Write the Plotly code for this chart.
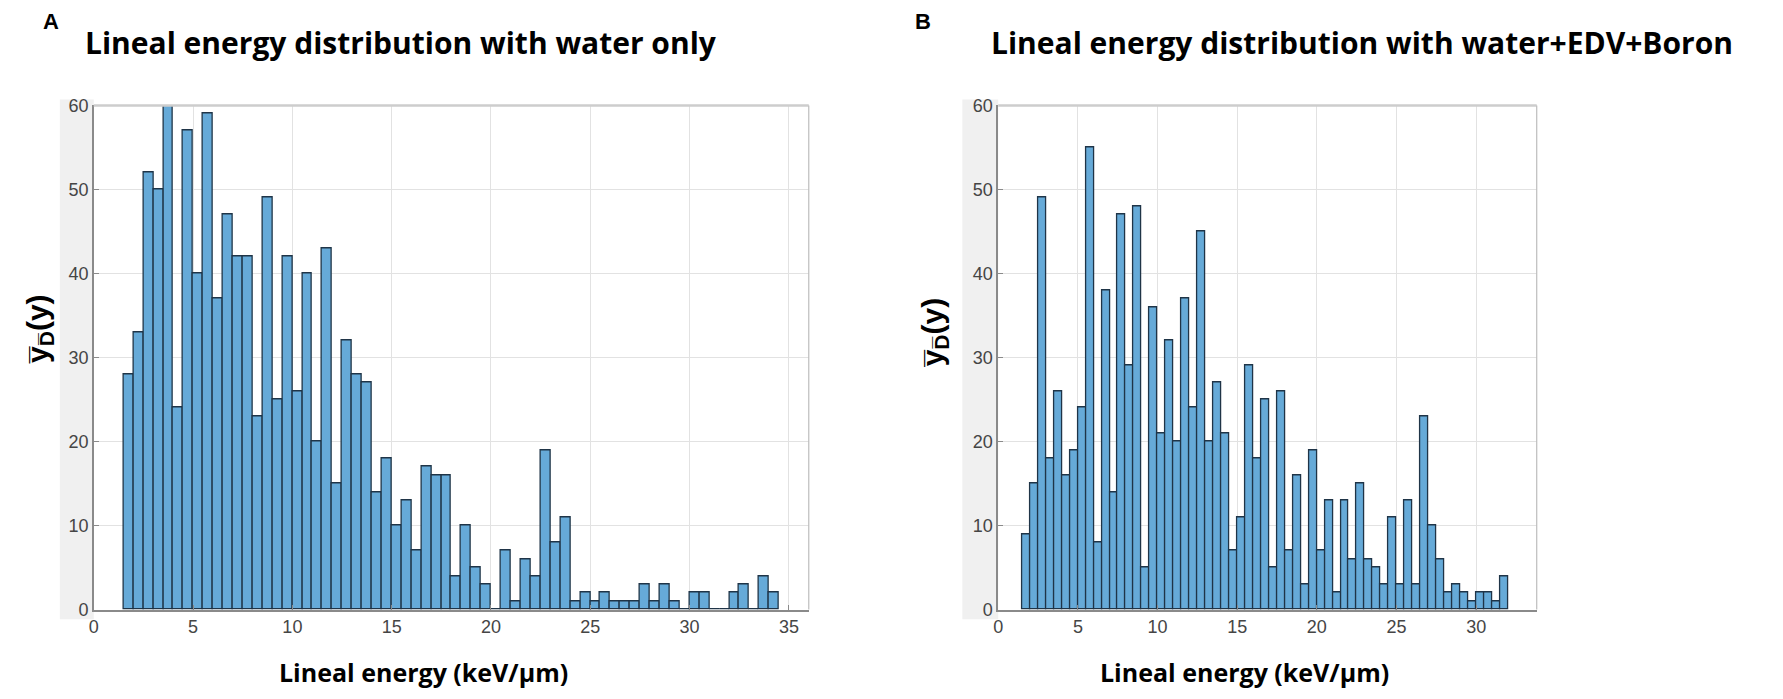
import numpy as np
import plotly.graph_objects as go

# ---------------- data ----------------
bin_width = 0.5
water_first_edge = 1.5
water_counts = [28, 33, 52, 50, 61, 24, 57, 40, 59, 37, 47, 42, 42, 23, 49, 25,
                42, 26, 40, 20, 43, 15, 32, 28, 27, 14, 18, 10, 13, 7, 17, 16,
                16, 4, 10, 5, 3, 0, 7, 1, 6, 4, 19, 8, 11,
                1, 2, 1, 2, 1, 1, 1, 3, 1, 3, 1, 0, 2, 2, 0, 0, 2, 3, 0, 4, 2]

boron_first_edge = 1.5
boron_counts = [9, 15, 49, 18, 26, 16, 19, 24, 55, 8, 38, 14, 47, 29, 48, 5,
                36, 21, 32, 20, 37, 24, 45, 20, 27, 21, 7, 11, 29, 18, 25, 5,
                26, 7, 16, 3, 19, 7, 13, 2, 13, 6, 15, 6, 5, 3, 11, 3, 13, 3,
                23, 10, 6, 2, 3, 2, 1, 2, 2, 1, 4]

y_ticks = [0, 10, 20, 30, 40, 50, 60]
water_x_ticks = [0, 5, 10, 15, 20, 25, 30, 35]
boron_x_ticks = [0, 5, 10, 15, 20, 25, 30]

panel_letters = ["A", "B"]
panel_titles = ["Lineal energy distribution with water only",
                "Lineal energy distribution with water+EDV+Boron"]
x_title = "Lineal energy (keV/\u03bcm)"
y_title = "<b>y\u0305<sub>D\u0305</sub>(y)</b>"

# ---------------- layout helpers ----------------
W, H = 1783, 699
def px(x):
    return x / W
def py(y):
    return 1 - y / H

BAR_FILL = "#66AAD8"
BAR_EDGE = "#1f3447"
GRID = "#e2e2e2"
AXIS = "#8a8a8a"
TICKFONT = dict(family="Liberation Sans, Arial, sans-serif", size=18, color="#454545")

def centers(first_edge, counts):
    return first_edge + bin_width * (np.arange(len(counts)) + 0.5)

fig = go.Figure()
fig.add_trace(go.Bar(x=centers(water_first_edge, water_counts), y=water_counts,
                     width=bin_width, marker=dict(color=BAR_FILL, line=dict(color=BAR_EDGE, width=1.3)),
                     cliponaxis=False, xaxis="x", yaxis="y", showlegend=False))
fig.add_trace(go.Bar(x=centers(boron_first_edge, boron_counts), y=boron_counts,
                     width=bin_width, marker=dict(color=BAR_FILL, line=dict(color=BAR_EDGE, width=1.3)),
                     cliponaxis=False, xaxis="x2", yaxis="y2", showlegend=False))

TOP, BOTTOM = 90, 609
ydom = [py(BOTTOM), py(TOP)]
common_x = dict(showgrid=True, gridcolor=GRID, gridwidth=1, zeroline=False,
                showline=True, linecolor=AXIS, linewidth=1.5, ticks="inside",
                ticklen=5, tickcolor=AXIS, tickfont=TICKFONT)
common_y = dict(showgrid=True, gridcolor=GRID, gridwidth=1, zeroline=False,
                showline=True, linecolor=AXIS, linewidth=1.5, ticks="inside",
                ticklen=5, tickcolor=AXIS, tickfont=TICKFONT,
                range=[0, 60], tickvals=y_ticks, domain=ydom)

fig.update_layout(
    width=W, height=H, margin=dict(l=0, r=0, t=0, b=0),
    paper_bgcolor="white", plot_bgcolor="white", bargap=0,
    xaxis=dict(domain=[px(81), px(798)], range=[0, 36], tickvals=water_x_ticks,
               anchor="y", **common_x),
    yaxis=dict(anchor="x", **common_y),
    xaxis2=dict(domain=[px(988), px(1528)], range=[0, 33.8], tickvals=boron_x_ticks,
                anchor="y2", **common_x),
    yaxis2=dict(anchor="x2", **common_y),
)

shapes = []
# light grey figure background strips behind y tick labels
for x0, x1 in [(47, 81), (952, 988)]:
    shapes.append(dict(type="rect", xref="paper", yref="paper", x0=px(x0), x1=px(x1),
                       y0=py(BOTTOM + 10), y1=py(TOP - 6), fillcolor="#f0f0f0",
                       line=dict(width=0), layer="below"))
# top and right box borders (lighter)
for xa, ya in [("x", "y"), ("x2", "y2")]:
    shapes.append(dict(type="line", xref=f"{xa} domain", yref=f"{ya} domain", x0=0, x1=1, y0=1, y1=1,
                       line=dict(color="#cdcdcd", width=2.5), layer="above"))
    shapes.append(dict(type="line", xref=f"{xa} domain", yref=f"{ya} domain", x0=1, x1=1, y0=0, y1=1,
                       line=dict(color="#bdbdbd", width=1.2), layer="above"))
fig.update_layout(shapes=shapes)

def note(text, x, y, font, xanchor="center", angle=0):
    return dict(text=text, x=px(x), y=py(y), xref="paper", yref="paper",
                xanchor=xanchor, yanchor="middle", showarrow=False, textangle=angle, font=font)

LETTER = dict(family="Liberation Sans, Arial, sans-serif", size=22, color="black")
TITLEFONT = dict(family="Open Sans, Liberation Sans, sans-serif", size=30, color="black")
XT = dict(family="Open Sans, Liberation Sans, sans-serif", size=25, color="black")
YT = dict(family="Liberation Sans, Arial, sans-serif", size=30, color="black")

ann = [
    note("<b>" + panel_letters[0] + "</b>", 38, 4, LETTER),
    note("<b>" + panel_letters[1] + "</b>", 913, 4, LETTER),
    note("<b>" + panel_titles[0] + "</b>", 70, 25, TITLEFONT, xanchor="left"),
    note("<b>" + panel_titles[1] + "</b>", 979, 25, TITLEFONT, xanchor="left"),
    note("<b>" + x_title + "</b>", 412, 673, XT),
    note("<b>" + x_title + "</b>", 1235, 673, XT),
    note(y_title, 27, 320, YT, angle=-90),
    note(y_title, 924, 324, YT, angle=-90),
]
fig.update_layout(annotations=ann)

fig.write_html("out.html")
